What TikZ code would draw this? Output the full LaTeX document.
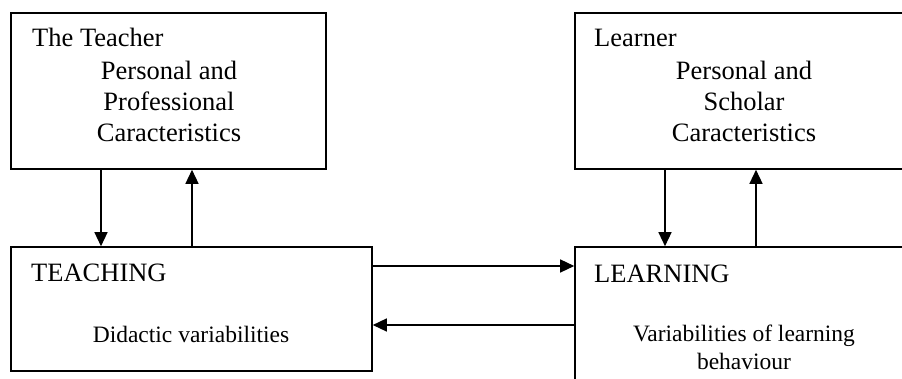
\documentclass[tikz,border=0pt]{standalone}
\usepackage{fontspec}
\setmainfont{Liberation Serif}
\usetikzlibrary{arrows.meta}
\begin{document}
\begin{tikzpicture}[x=1pt,y=-1pt,
  box/.style={draw,line width=1.6pt,rectangle,inner sep=0pt},
  big/.style={inner sep=0pt,font=\fontsize{26.5}{31}\selectfont},
  small/.style={inner sep=0pt,font=\fontsize{23.5}{28}\selectfont},
  arr/.style={line width=1.4pt,-{Triangle[width=13pt,length=14pt]}}]
\useasboundingbox (0,0) rectangle (902,379);
\clip (0,0) rectangle (902,379);
\fill[white] (0,0) rectangle (902,379);
% boxes
\node[box,minimum width=315pt,minimum height=156pt] (teacher) at (168.5,91) {};
\node[box,minimum width=338pt,minimum height=156pt] (learner) at (744,91) {};
\node[box,minimum width=361pt,minimum height=124pt] (teaching) at (191.5,309) {};
\node[box,minimum width=338pt,minimum height=153pt] (learning) at (744,323.5) {};
% texts
\node[big,anchor=base west] (t1) at (32,47) {The Teacher};
\node[big,anchor=base] (t2) at (169,80) {Personal and};
\node[big,anchor=base] (t3) at (169,111) {Professional};
\node[big,anchor=base] (t4) at (169,142) {Caracteristics};
\node[big,anchor=base west] (l1) at (594,47) {Learner};
\node[big,anchor=base] (l2) at (744,80) {Personal and};
\node[big,anchor=base] (l3) at (744,111) {Scholar};
\node[big,anchor=base] (l4) at (744,142) {Caracteristics};
\node[big,anchor=base west] (g1) at (31,282) {TEACHING};
\node[small,anchor=base] (g2) at (191,342) {Didactic variabilities};
\node[big,anchor=base west] (n1) at (594,283) {LEARNING};
\node[small,anchor=base] (n2) at (744,341) {Variabilities of learning};
\node[small,anchor=base] (n3) at (744,369) {behaviour};
% lanes
\coordinate (a1) at (101,0);
\coordinate (a2) at (192,0);
\coordinate (b1) at (665,0);
\coordinate (b2) at (756,0);
\coordinate (h1) at (0,266);
\coordinate (h2) at (0,325);
% arrows
\draw[arr] (teacher.south -| a1) -- (teaching.north -| a1);
\draw[arr] (teaching.north -| a2) -- (teacher.south -| a2);
\draw[arr] (learner.south -| b1) -- (learning.north -| b1);
\draw[arr] (learning.north -| b2) -- (learner.south -| b2);
\draw[arr] (teaching.east |- h1) -- (learning.west |- h1);
\draw[arr] (learning.west |- h2) -- (teaching.east |- h2);
\end{tikzpicture}
\end{document}
